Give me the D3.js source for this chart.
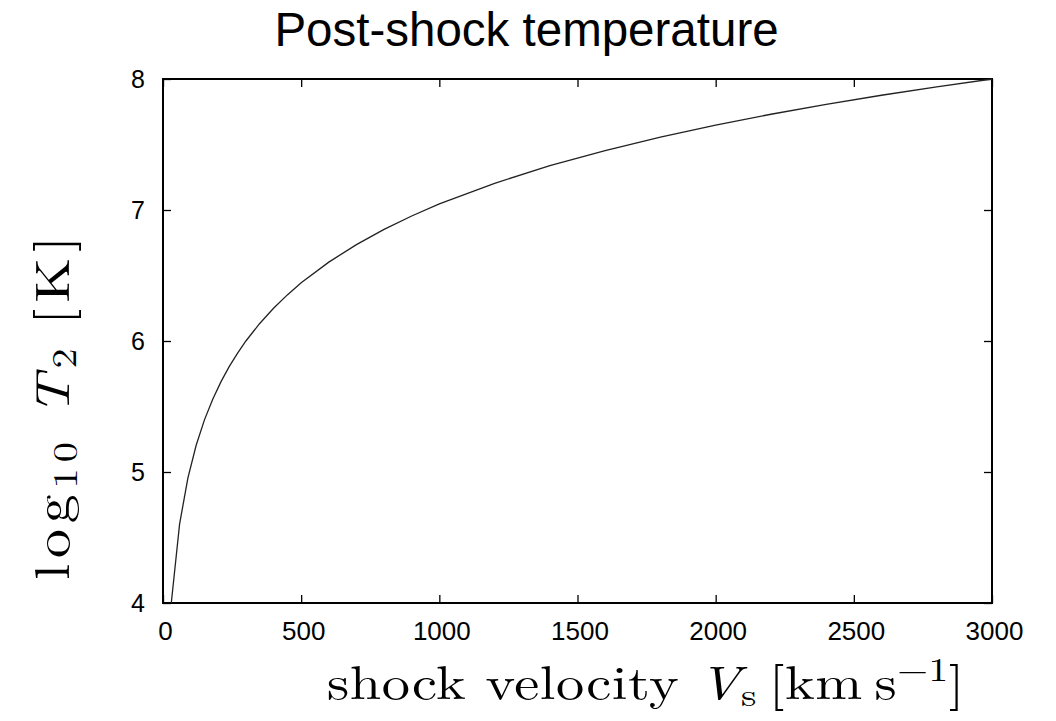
<!DOCTYPE html>
<html>
<head>
<meta charset="utf-8">
<script src="https://cdn.jsdelivr.net/npm/d3@7"></script>
<style>
  html, body { margin: 0; padding: 0; background: #fff; }
  svg { display: block; }
</style>
</head>
<body>
<svg id="chart" width="1056" height="721"></svg>
<script>
// Data
const velocities = [30, 60, 90, 120, 150, 180, 210, 240, 270, 300, 350, 400, 450, 500,
                    600, 700, 800, 900, 1000, 1200, 1400, 1600, 1800, 2000, 2200, 2400, 2600, 2800, 3000];
const logT2 = [4.000, 4.602, 4.954, 5.204, 5.398, 5.556, 5.690, 5.806, 5.908, 6.000, 6.134, 6.250, 6.352, 6.444,
               6.602, 6.736, 6.852, 6.954, 7.046, 7.204, 7.338, 7.454, 7.556, 7.648, 7.731, 7.806, 7.876, 7.940, 8.000];
const xTicks = [0, 500, 1000, 1500, 2000, 2500, 3000];
const yTicks = [4, 5, 6, 7, 8];
const titleText = "Post-shock temperature";

const svg = d3.select("#chart");
const L = 163, R = 992, T = 79, B = 603;

const x = d3.scaleLinear().domain([0, 3000]).range([L, R]);
const y = d3.scaleLinear().domain([4, 8]).range([B, T]);

const sans = "'Liberation Sans', Arial, Helvetica, sans-serif";
const serif = "'Latin Modern Roman', 'CMU Serif', 'Liberation Serif', 'DejaVu Serif', serif";

function styleAxis(g) {
  g.select(".domain").remove();
  g.selectAll(".tick line").attr("stroke", "#000").attr("stroke-width", 1.3);
}
svg.append("g").attr("transform", `translate(0,${B})`)
  .call(d3.axisBottom(x).tickValues(xTicks).tickSize(-8).tickFormat(d3.format("d")))
  .call(styleAxis)
  .call(g => g.selectAll(".tick text").attr("font-family", sans).attr("font-size", 26).attr("fill", "#000")
        .attr("dy", null).attr("y", 37).attr("dx", 2));
svg.append("g").attr("transform", `translate(0,${T})`)
  .call(d3.axisTop(x).tickValues(xTicks).tickSize(-8).tickFormat(""))
  .call(styleAxis);
svg.append("g").attr("transform", `translate(${L},0)`)
  .call(d3.axisLeft(y).tickValues(yTicks).tickSize(-8).tickFormat(d3.format("d")))
  .call(styleAxis)
  .call(g => g.selectAll(".tick text").attr("font-family", sans).attr("font-size", 25).attr("fill", "#000")
        .attr("x", -18).attr("dy", "0.32em"));
svg.append("g").attr("transform", `translate(${R},0)`)
  .call(d3.axisRight(y).tickValues(yTicks).tickSize(-8).tickFormat(""))
  .call(styleAxis);

// frame
svg.append("rect").attr("x", L).attr("y", T).attr("width", R - L).attr("height", B - T)
  .attr("fill", "none").attr("stroke", "#000").attr("stroke-width", 2);

// curve
const pts = velocities.map((v, i) => [v, logT2[i]]);
svg.append("path").datum(pts)
  .attr("fill", "none").attr("stroke", "#222").attr("stroke-width", 1.3)
  .attr("d", d3.line().x(d => x(d[0])).y(d => y(d[1])));

// title
svg.append("text").attr("x", 526.5).attr("y", 46).attr("text-anchor", "middle")
  .attr("font-family", sans).attr("font-size", 47.5).attr("fill", "#000").text(titleText);

// fit helper: moderate horizontal stretch plus letter spacing to reach a target width
function place(sel, cx, cy, rot, target, stretch) {
  const w0 = sel.node().getComputedTextLength();
  const n = sel.text().length;
  const need = target / stretch - w0;
  sel.attr("letter-spacing", Math.max(0, need / n));
  const w1 = sel.node().getComputedTextLength();
  const s = target / w1;
  sel.attr("transform", `translate(${cx},${cy}) rotate(${rot}) scale(${s},1)`);
}

// x label
const xl = svg.append("text").attr("x", 0).attr("y", 0).attr("text-anchor", "middle")
  .attr("font-family", serif).attr("font-size", 47).attr("fill", "#000");
xl.append("tspan").text("shock velocity ");
xl.append("tspan").attr("font-style", "italic").text("V");
xl.append("tspan").attr("font-size", "0.7em").attr("dy", "0.2em").text("s");
xl.append("tspan").attr("dy", "-0.14em").text("\u2009[km\u2009s");
xl.append("tspan").attr("font-size", "0.7em").attr("dy", "-0.55em").text("\u22121");
xl.append("tspan").attr("dy", "0.385em").text("]");
place(xl, 646, 699, 0, 638, 1.2);

// y label
const yl = svg.append("text").attr("x", 0).attr("y", 0)
  .attr("text-anchor", "middle").attr("font-family", serif).attr("font-size", 48).attr("fill", "#000");
yl.append("tspan").text("log");
yl.append("tspan").attr("font-size", "0.7em").attr("dy", "0.25em").text("10");
yl.append("tspan").attr("dy", "-0.175em").text("\u2005");
yl.append("tspan").attr("font-style", "italic").text("T");
yl.append("tspan").attr("font-size", "0.7em").attr("dy", "0.22em").text("2");
yl.append("tspan").attr("dy", "-0.154em").text("\u2009[K]");
place(yl, 69, 405, -90, 350, 1.2);
</script>
</body>
</html>
